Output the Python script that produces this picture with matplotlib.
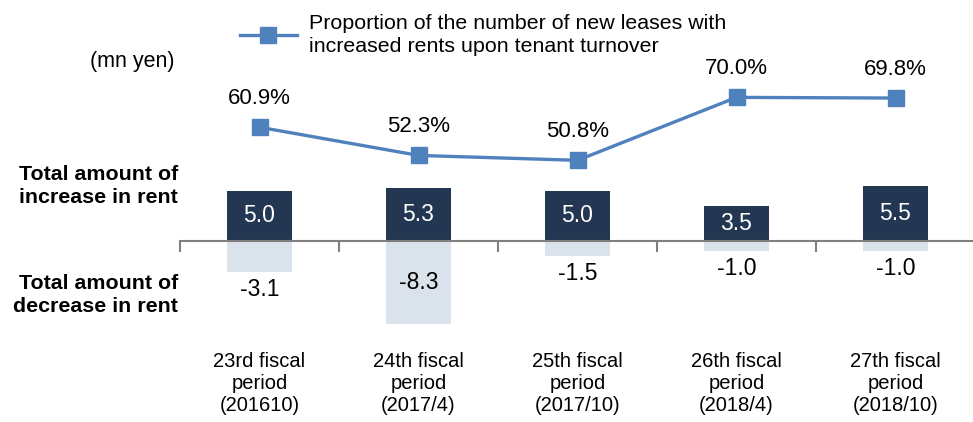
import numpy as np
import matplotlib.pyplot as plt
from matplotlib import transforms

plt.rcParams['font.family'] = ['Liberation Sans', 'DejaVu Sans']

# data
periods = ['23rd fiscal\nperiod\n(201610)', '24th fiscal\nperiod\n(2017/4)',
           '25th fiscal\nperiod\n(2017/10)', '26th fiscal\nperiod\n(2018/4)',
           '27th fiscal\nperiod\n(2018/10)']
increase = [5.0, 5.3, 5.0, 3.5, 5.5]
decrease = [-3.1, -8.3, -1.5, -1.0, -1.0]
ratio = [60.9, 52.3, 50.8, 70.0, 69.8]

dark = '#243752'
light = '#dae2eb'
blue = '#4f81bd'

fig = plt.figure(figsize=(9.73, 4.22), dpi=100)
ax = fig.add_axes([180 / 973, 0, 795 / 973, 1])
x = np.arange(len(periods))

ax.bar(x, increase, width=0.415, color=dark, zorder=2)
ax.bar(x, decrease, width=0.415, color=light, zorder=2)
ax.set_xlim(-0.5, 4.5)
ax.set_ylim(-18.1, 24.1)

# baseline with ticks at category boundaries
for s in ['top', 'right', 'left']:
    ax.spines[s].set_visible(False)
ax.spines['bottom'].set_position(('data', 0))
ax.spines['bottom'].set_color('#808080')
ax.spines['bottom'].set_linewidth(1.5)
ax.spines['bottom'].set_zorder(3)
ax.set_xticks(np.arange(-0.5, 5, 1))
ax.set_xticklabels([])
ax.tick_params(axis='x', length=8, width=1.5, color='#808080', direction='out')
ax.set_yticks([])
ax.patch.set_alpha(0)

for xi, v in zip(x, increase):
    ax.text(xi, v / 2, f'{v:.1f}', color='white', ha='center', va='center',
            fontsize=16.5, zorder=4)
for xi, v in zip(x, decrease):
    if abs(v) > 5:
        ax.text(xi, v / 2, f'{v:.1f}', color='black', ha='center', va='center',
                fontsize=16.5, zorder=4)
    else:
        ax.annotate(f'{v:.1f}', (xi, v), xytext=(0, -4), textcoords='offset points',
                    ha='center', va='top', fontsize=16.5)

trans = transforms.blended_transform_factory(ax.transData, ax.transAxes)
for xi, lab in zip(x, periods):
    ax.text(xi, 70 / 422, lab, transform=trans, ha='center', va='top',
            fontsize=14.5, linespacing=1.2)

# proportion line on its own scale
ax2 = ax.twinx()
ax2.set_position(ax.get_position())
ax2.plot(x, ratio, color=blue, lw=2.4, marker='s', ms=12, mec=blue, mfc=blue, zorder=3)
ax2.set_ylim(-29.0, 99.7)
ax2.axis('off')
for xi, v in zip(x, ratio):
    ax2.annotate(f'{v:.1f}%', (xi, v), xytext=(0, 20.5), textcoords='offset points',
                 ha='center', va='center', fontsize=16)

leg = ax2.legend(['Proportion of the number of new leases with\nincreased rents upon tenant turnover'],
                 loc='center left', bbox_to_anchor=(240 / 973, 1 - 35 / 422),
                 bbox_transform=fig.transFigure, frameon=False, fontsize=15.4,
                 handlelength=2.66, handletextpad=0.56, borderpad=0, borderaxespad=0)
for t in leg.get_texts():
    t.set_linespacing(1.27)

fig.text(175 / 973, 1 - 62 / 422, '(mn yen)', ha='right', va='center', fontsize=15.5)
fig.text(178 / 973, 1 - 186 / 422, 'Total amount of\nincrease in rent', ha='right',
         va='center', fontsize=15.4, fontweight='bold', linespacing=1.3)
fig.text(178 / 973, 1 - 295 / 422, 'Total amount of\ndecrease in rent', ha='right',
         va='center', fontsize=15.4, fontweight='bold', linespacing=1.3)

fig.savefig('out.png', dpi=100)
